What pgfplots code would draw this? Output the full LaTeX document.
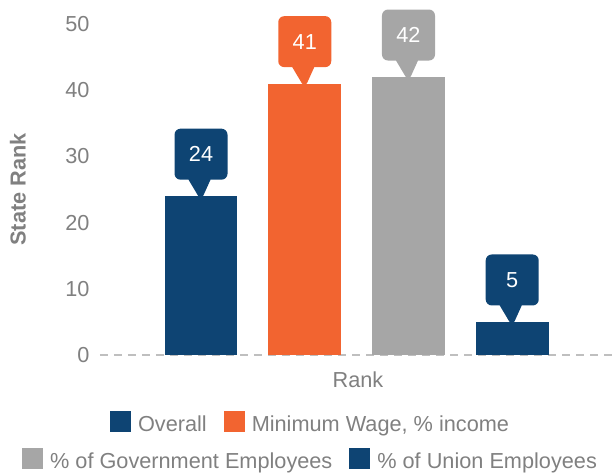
\documentclass[border=0pt]{standalone}
\usepackage{pgfplots}
\pgfplotsset{compat=1.18}
\usepackage{fontspec}
\setmainfont{Liberation Sans}
\usetikzlibrary{shapes.callouts}
\definecolor{cblue}{HTML}{0E4473}
\definecolor{corange}{HTML}{F26430}
\definecolor{cgray}{HTML}{A6A6A6}
\definecolor{ctext}{HTML}{808080}
\definecolor{cline}{HTML}{BFBFBF}
\newcommand\fs{\fontsize{21.7}{26}\selectfont}
\tikzset{callbox/.style={rectangle callout, text=white, font=\fs, minimum width=53pt, minimum height=51pt, inner sep=0pt, rounded corners=6pt, callout relative pointer={(0pt,-21pt)}, callout pointer width=22pt, anchor=pointer, yshift=-5pt}}
\pgfplotsset{
  common/.style={scale only axis, width=516pt, height=331pt,
    xmin=-0.974, xmax=4.0, ymin=0, ymax=50,
    ybar, bar width=0.7, bar shift=0pt, clip=false,
    xtick=\empty,
    /pgf/number format/assume math mode=true,
    legend columns=-1,
    legend style={draw=none, fill=none, font=\fs, text=ctext, anchor=center,
      /tikz/every odd column/.append style={column sep=5pt},
      /tikz/every even column/.append style={column sep=15pt}},
    legend image code/.code={\fill[##1] (0pt,-7pt) rectangle (21pt,14pt);},
  }
}
\begin{document}
\begin{tikzpicture}
\useasboundingbox (-100pt,-121pt) rectangle (516pt,355pt);
\begin{axis}[common,
  axis x line=bottom, axis y line=left,
  x axis line style={-, draw=cline, line width=1.5pt, dash pattern=on 8pt off 6pt},
  y axis line style={draw=none},
  major tick length=0pt,
  ytick={0,10,...,50},
  yticklabel style={font=\fs, text=ctext, xshift=-7pt},
  ylabel={State Rank}, xlabel={Rank},
  every axis y label/.style={at={(axis description cs:-0.159,0.5)}, rotate=90, anchor=center, font=\fs\bfseries, text=ctext},
  every axis x label/.style={at={(axis description cs:0.5,0)}, anchor=center, yshift=-25pt, font=\fs, text=ctext},
  legend style={at={(axis description cs:0.408,-0.205)}},
]
\addplot[fill=cblue, draw=none, nodes near coords, every node near coord/.style={callbox, fill=cblue}] coordinates {(0,24)};
\addplot[fill=corange, draw=none, nodes near coords, every node near coord/.style={callbox, fill=corange}] coordinates {(1,41)};
\legend{Overall, {Minimum Wage, \% income}}
\end{axis}
\begin{axis}[common, hide axis,
  legend style={at={(axis description cs:0.408,-0.317)}},
]
\addplot[fill=cgray, draw=none, nodes near coords, every node near coord/.style={callbox, fill=cgray}] coordinates {(2,42)};
\addplot[fill=cblue, draw=none, nodes near coords, every node near coord/.style={callbox, fill=cblue}] coordinates {(3,5)};
\legend{\% of Government Employees, \% of Union Employees}
\end{axis}
\end{tikzpicture}
\end{document}
